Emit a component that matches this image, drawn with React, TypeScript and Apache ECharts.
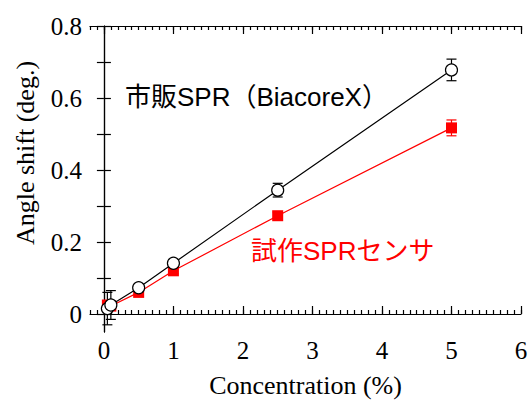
import React, { useEffect, useRef } from "react";
import * as echarts from "echarts";

// Concentration (%) on x, angle shift (deg.) on y
const commercialX = [0.05, 0.1, 0.5, 1, 2.5, 5];
const commercialY = [0.015, 0.025, 0.073, 0.141, 0.344, 0.678];
const commercialErr = [0.045, 0.04, 0.008, 0.01, 0.019, 0.03];

const prototypeX = [0.05, 0.1, 0.5, 1, 2.5, 5];
const prototypeY = [0.025, 0.022, 0.06, 0.12, 0.273, 0.517];
const prototypeErr = [0.01, 0.01, 0.008, 0.008, 0.01, 0.022];

const xMajorTicks = [0, 1, 2, 3, 4, 5, 6];
const yTicks = [0, 0.1, 0.2, 0.3, 0.4, 0.5, 0.6, 0.7, 0.8];
const yLabels = [0, 0.2, 0.4, 0.6, 0.8];

const commercialLabel = "市販SPR（BiacoreX）";
const prototypeLabel = "試作SPRセンサ";
const xTitle = "Concentration (%)";
const yTitle = "Angle shift (deg.)";

const SERIF = "'Liberation Serif', 'Times New Roman', serif";
const SANS = "'Liberation Sans', Arial, 'Noto Sans CJK JP', sans-serif";

function errorBars(xs: number[], ys: number[], errs: number[], color: string) {
  return {
    type: "custom",
    xAxisIndex: 0,
    yAxisIndex: 0,
    clip: true,
    z: 3,
    data: xs.map((x, i) => [x, ys[i], errs[i]]),
    renderItem: (params: any, api: any) => {
      const x = api.value(0);
      const y = api.value(1);
      const e = api.value(2);
      const top = api.coord([x, y + e]);
      const bot = api.coord([x, y - e]);
      const w = 5;
      const style = { stroke: color, lineWidth: 1.2 };
      return {
        type: "group",
        children: [
          { type: "line", shape: { x1: top[0], y1: top[1], x2: bot[0], y2: bot[1] }, style },
          { type: "line", shape: { x1: top[0] - w, y1: top[1], x2: top[0] + w, y2: top[1] }, style },
          { type: "line", shape: { x1: bot[0] - w, y1: bot[1], x2: bot[0] + w, y2: bot[1] }, style },
        ],
      };
    },
  };
}

export default function App() {
  const ref = useRef<HTMLDivElement>(null);

  useEffect(() => {
    document.body.style.margin = "0";
    if (!ref.current) return;
    const chart = echarts.init(ref.current, null, { renderer: "svg" });
    const lineStyle = { color: "#000", width: 1.2 };
    const xBase = {
      min: -0.2,
      max: 6,
      type: "value",
      splitLine: { show: false },
    };
    const yBase = {
      min: -0.05,
      max: 0.8,
      type: "value",
      splitLine: { show: false },
    };
    const tickFont = { fontFamily: SERIF, fontSize: 25, color: "#000" };
    const titleFont = { fontFamily: SERIF, fontSize: 26, color: "#000" };
    chart.setOption({
      animation: false,
      backgroundColor: "#fff",
      textStyle: { fontFamily: SERIF },
      grid: { left: 90, right: 10, top: 26, bottom: 69, containLabel: false, outerBoundsMode: "none" },
      xAxis: [
        {
          ...xBase,
          position: "bottom",
          name: xTitle,
          nameLocation: "middle",
          nameGap: 40,
          nameTextStyle: titleFont,
          axisLine: { show: true, lineStyle },
          axisTick: { show: true, inside: true, length: 8, lineStyle, customValues: xMajorTicks },
          axisLabel: {
            show: true,
            customValues: xMajorTicks,
            ...tickFont,
            margin: 6,
            formatter: (v: number) => String(v),
          },
        },
        {
          ...xBase,
          position: "bottom",
          interval: 0.1,
          axisLine: { show: false },
          axisTick: { show: true, inside: true, length: 4, lineStyle },
          axisLabel: { show: false },
        },
        {
          ...xBase,
          position: "top",
          axisLine: { show: true, lineStyle },
          axisTick: { show: true, inside: true, length: 8, lineStyle, customValues: xMajorTicks },
          axisLabel: { show: false },
        },
        {
          ...xBase,
          position: "top",
          interval: 0.1,
          axisLine: { show: false },
          axisTick: { show: true, inside: true, length: 4, lineStyle },
          axisLabel: { show: false },
        },
      ],
      yAxis: [
        {
          ...yBase,
          position: "left",
          axisLine: { show: true, lineStyle },
          axisTick: { show: true, inside: true, length: 7, lineStyle, customValues: yTicks },
          axisLabel: {
            show: true,
            customValues: yLabels,
            ...tickFont,
            margin: 8,
            formatter: (v: number) => (Math.abs(v) < 1e-9 ? "0" : v.toFixed(1)),
          },
        },
        {
          ...yBase,
          position: "right",
          axisLine: { show: true, lineStyle },
          axisTick: { show: true, inside: true, length: 7, lineStyle, customValues: yTicks },
          axisLabel: { show: false },
        },
      ],
      series: [
        errorBars(commercialX, commercialY, commercialErr, "#000"),
        errorBars(prototypeX, prototypeY, prototypeErr, "#f00"),
        {
          type: "line",
          xAxisIndex: 0,
          yAxisIndex: 0,
          z: 4,
          data: prototypeX.map((x, i) => [x, prototypeY[i]]),
          symbol: "rect",
          symbolSize: 11,
          lineStyle: { color: "#f00", width: 1.2 },
          itemStyle: { color: "#f00" },
        },
        {
          type: "line",
          xAxisIndex: 0,
          yAxisIndex: 0,
          z: 5,
          data: commercialX.map((x, i) => [x, commercialY[i]]),
          symbol: "circle",
          symbolSize: 12,
          lineStyle: { color: "#000", width: 1.2 },
          itemStyle: { color: "#fff", borderColor: "#000", borderWidth: 1.2 },
        },
      ],
      graphic: [
        {
          // y-axis title, set by hand so it can sit a little above the plot's middle
          type: "text",
          x: 25,
          y: 153,
          rotation: Math.PI / 2,
          style: {
            text: yTitle,
            font: `26px ${SERIF}`,
            fill: "#000",
            align: "center",
            verticalAlign: "middle",
          },
        },
        {
          type: "text",
          left: 125,
          top: 84,
          style: { text: commercialLabel, font: `26px ${SANS}`, fill: "#000" },
        },
        {
          type: "text",
          left: 251,
          top: 238,
          style: { text: prototypeLabel, font: `26px ${SANS}`, fill: "#f00" },
        },
      ],
    });
    return () => chart.dispose();
  }, []);

  return <div ref={ref} style={{ width: 531, height: 401 }} />;
}
